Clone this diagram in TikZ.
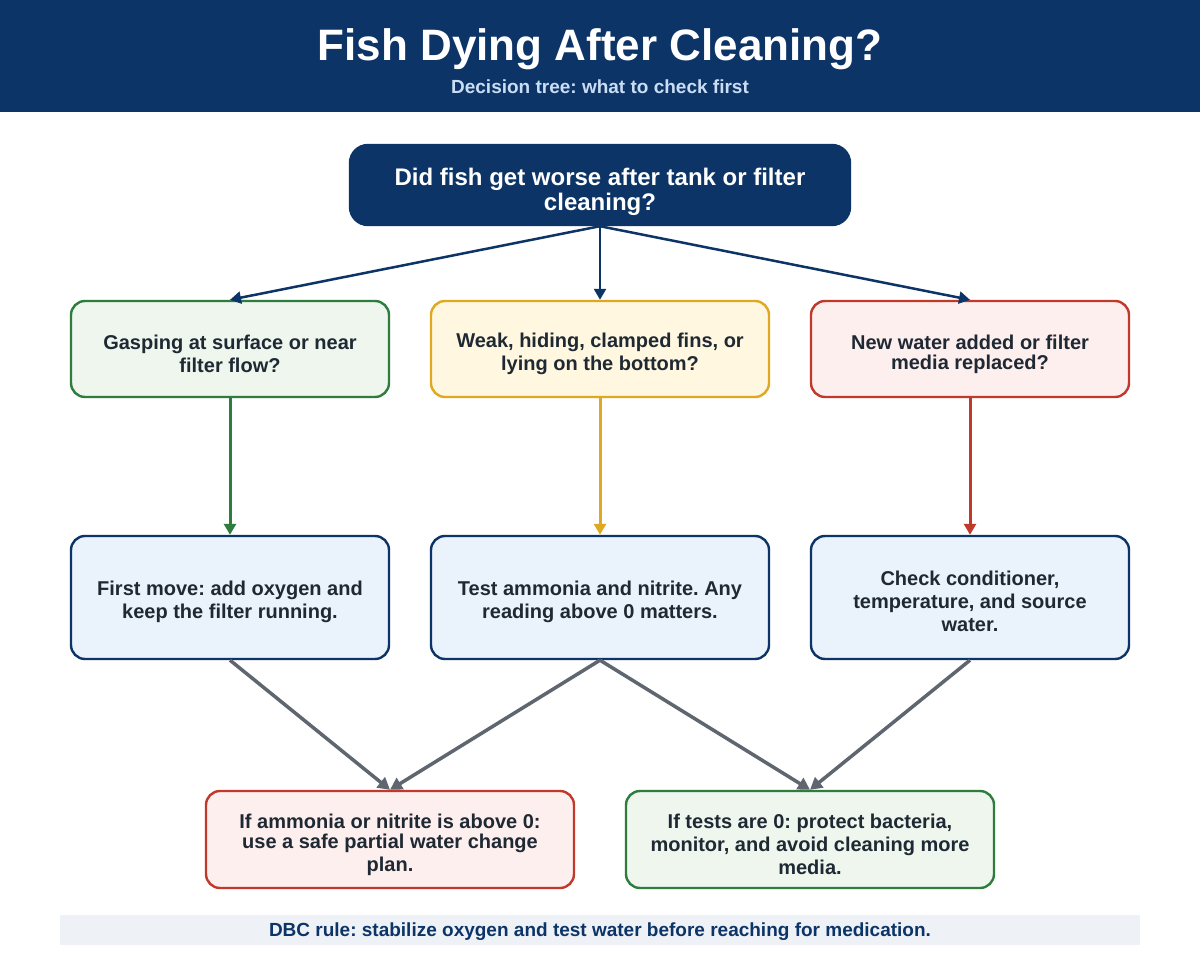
\documentclass[tikz,border=0pt]{standalone}
\usepackage{fontspec}
\setmainfont{Liberation Sans}
\usetikzlibrary{arrows.meta}
\definecolor{navy}{HTML}{0D3467}
\definecolor{subblue}{HTML}{C9DDF5}
\definecolor{txt}{HTML}{1F2933}
\definecolor{gbd}{HTML}{2E7D3E}
\definecolor{gfl}{HTML}{EEF6EE}
\definecolor{ybd}{HTML}{E0A820}
\definecolor{yfl}{HTML}{FFF7E0}
\definecolor{rbd}{HTML}{C0392B}
\definecolor{rfl}{HTML}{FDEFEE}
\definecolor{bfl}{HTML}{EAF2FB}
\definecolor{gray}{HTML}{5F6670}
\definecolor{foot}{HTML}{EEF2F7}
\frenchspacing
\begin{document}
\begin{tikzpicture}[x=1pt,y=-1pt,
  box/.style={rounded corners=14pt, line width=2.4pt, inner sep=0pt},
  lbl/.style={align=center, text=txt, font=\fontsize{20}{23}\selectfont\bfseries, inner sep=0pt},
  r2/.style={box, minimum width=318pt, minimum height=96pt},
  r3/.style={box, minimum width=318pt, minimum height=123pt, draw=navy, fill=bfl},
  r4/.style={box, minimum width=368pt, minimum height=97pt},
  t2/.style={lbl, yshift=-5pt},
  t3/.style={lbl, yshift=-4pt},
  t4/.style={lbl, yshift=-5pt},
  navyarrow/.style={draw=navy, line width=2.5pt, -{Triangle[length=11pt,width=12pt]}},
  colarrow/.style={line width=3pt, -{Triangle[length=11pt,width=12pt]}},
  grayarrow/.style={draw=gray, line width=3.5pt, -{Triangle[length=12pt,width=13pt]}}
]
\useasboundingbox (0,0) rectangle (1200,960);
\fill[white] (0,0) rectangle (1200,960);
\fill[navy] (0,0) rectangle (1200,112);
\node (title) at (600,49) {\color{white}\fontsize{44}{48}\selectfont\bfseries Fish Dying After Cleaning?};
\node (sub) at (600,87) {\color{subblue}\fontsize{19}{22}\selectfont\bfseries Decision tree: what to check first};

\node[box, fill=navy, draw=navy, rounded corners=18pt, minimum width=500pt, minimum height=80pt,
  label={[lbl, text=white, font=\fontsize{24}{25}\selectfont\bfseries, yshift=-7pt]center:{Did fish get worse after tank or filter\\cleaning?}}] (top) at (600,185) {};

\node[r2, draw=gbd, fill=gfl, label={[t2]center:{Gasping at surface or near\\filter flow?}}] (g2) at (230,349) {};
\node[r2, draw=ybd, fill=yfl, minimum width=338pt, label={[t2]center:{Weak, hiding, clamped fins, or\\lying on the bottom?}}] (y2) at (600,349) {};
\node[r2, draw=rbd, fill=rfl, label={[t2, font=\fontsize{20}{20}\selectfont\bfseries]center:{New water added or filter\\media replaced?}}] (rr2) at (970,349) {};

\node[r3, label={[t3]center:{First move: add oxygen and\\keep the filter running.}}] (g3) at (230,597.5) {};
\node[r3, minimum width=338pt, label={[t3]center:{Test ammonia and nitrite. Any\\reading above 0 matters.}}] (y3) at (600,597.5) {};
\node[r3, label={[t3]center:{Check conditioner,\\temperature, and source\\water.}}] (rr3) at (970,597.5) {};

\node[r4, draw=rbd, fill=rfl, label={[t4]center:{If ammonia or nitrite is above 0:\\[-3pt]use a safe partial water change\\plan.}}] (l4) at (390,839.5) {};
\node[r4, draw=gbd, fill=gfl, label={[t4]center:{If tests are 0: protect bacteria,\\monitor, and avoid cleaning more\\media.}}] (rt4) at (810,839.5) {};

\fill[foot] (60,915) rectangle (1140,945);
\node (footer) at (600,932) {\color{navy}\fontsize{19}{22}\selectfont\bfseries DBC rule: stabilize oxygen and test water before reaching for medication.};

\draw[navyarrow] (top.south) -- (g2.north);
\draw[navyarrow] (top.south) -- (y2.north);
\draw[navyarrow] (top.south) -- (rr2.north);

\draw[colarrow, draw=gbd] (g2.south) -- (g3.north);
\draw[colarrow, draw=ybd] (y2.south) -- (y3.north);
\draw[colarrow, draw=rbd] (rr2.south) -- (rr3.north);

\draw[grayarrow] (g3.south) -- (l4.north);
\draw[grayarrow] (y3.south) -- (l4.north);
\draw[grayarrow] (y3.south) -- (rt4.north);
\draw[grayarrow] (rr3.south) -- (rt4.north);
\end{tikzpicture}
\end{document}
